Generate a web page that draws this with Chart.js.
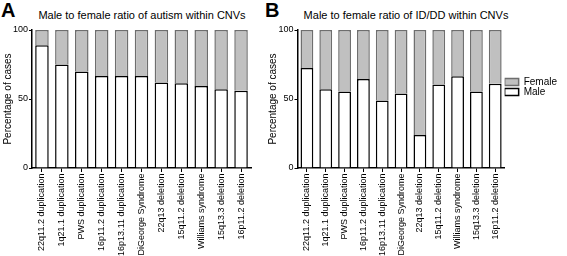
<!DOCTYPE html>
<html>
<head>
<meta charset="utf-8">
<script src="https://cdn.jsdelivr.net/npm/chart.js@4.4.1/dist/chart.umd.min.js"></script>
<style>
    body { margin: 0; background: #fff; }
    #wrap { position: relative; width: 567px; height: 256px; overflow: hidden; font-family: 'Liberation Sans', Arial, Helvetica, sans-serif; }
    .letter { position: absolute; top: -1px; font-size: 20px; font-weight: bold; color: #000; }
    .title { position: absolute; top: 9px; font-size: 11px; color: #000; white-space: nowrap; transform: translateX(-50%); }
    canvas { position: absolute; top: 0; }
</style>
</head>
<body>
<div id="wrap">
    <div class="letter" style="left:1px">A</div>
    <div class="letter" style="left:265px">B</div>
    <div class="title" style="left:142px">Male to female ratio of autism within CNVs</div>
    <div class="title" style="left:406px">Male to female ratio of ID/DD within CNVs</div>
    <canvas id="chartA" style="left:0px" width="262" height="256"></canvas>
    <canvas id="chartB" style="left:265px" width="302" height="256"></canvas>
</div>
<script>
var categories = ['22q11.2 duplication', '1q21.1 duplication', 'PWS duplication', '16p11.2 duplication',
    '16p13.11 duplication', 'DiGeorge Syndrome', '22q13 deletion', '15q11.2 deletion',
    'Williams syndrome', '15q13.3 deletion', '16p11.2 deletion'];

// percentage of cases, panel A (autism)
var autismMale = [89, 75, 70, 66.7, 66.7, 66.7, 62, 61.5, 59.5, 57, 56];
var autismFemale = [11, 25, 30, 33.3, 33.3, 33.3, 38, 38.5, 40.5, 43, 44];

// percentage of cases, panel B (ID/DD)
var iddMale = [72.5, 57, 55.5, 64.5, 49, 54, 24, 60.5, 66.5, 55.5, 61];
var iddFemale = [27.5, 43, 44.5, 35.5, 51, 46, 76, 39.5, 33.5, 44.5, 39];

var yTicks = [0, 50, 100];
var yAxisTitle = 'Percentage of cases';

Chart.defaults.font.family = "'Liberation Sans', Arial, Helvetica, sans-serif";
Chart.defaults.color = '#000';
Chart.defaults.animation = false;

function draw(chartId, male, female, yWidth, rightPad, showLegend) {
    var chartElement = document.getElementById(chartId);

    return new Chart(chartElement, {
        type: 'bar',
        data: {
            labels: categories,
            datasets: [
                {
                    label: 'Male',
                    data: male,
                    backgroundColor: '#ffffff',
                    borderColor: '#000000',
                    borderWidth: 1.5,
                    barPercentage: 0.68,
                    categoryPercentage: 1
                },
                {
                    label: 'Female',
                    data: female,
                    backgroundColor: '#c0c0c0',
                    borderColor: '#6e6e6e',
                    borderWidth: 1.5,
                    barPercentage: 0.68,
                    categoryPercentage: 1
                }
            ]
        },
        options: {
            responsive: false,
            layout: {
                padding: { top: 30, right: rightPad, left: 0, bottom: 0 }
            },
            plugins: {
                tooltip: { enabled: false },
                legend: {
                    display: showLegend,
                    position: 'right',
                    align: 'start',
                    reverse: true,
                    // empty title only used to push the legend down
                    title: {
                        display: true,
                        text: '',
                        font: { size: 10 },
                        padding: { top: 35, bottom: 0 }
                    },
                    labels: {
                        boxWidth: 14,
                        boxHeight: 7,
                        padding: 0,
                        font: { size: 10 },
                        color: '#000'
                    }
                }
            },
            scales: {
                x: {
                    stacked: true,
                    afterFit: function (scale) { scale.height = 88; },
                    grid: {
                        offset: false,
                        drawOnChartArea: false,
                        tickLength: 4,
                        tickWidth: 1,
                        tickColor: '#000'
                    },
                    border: { color: '#000', width: 1.5 },
                    ticks: {
                        autoSkip: false,
                        minRotation: 90,
                        maxRotation: 90,
                        padding: 1.5,
                        font: { size: 9 },
                        color: '#000'
                    }
                },
                y: {
                    stacked: true,
                    min: 0,
                    max: 100,
                    afterFit: function (scale) { scale.width = yWidth; },
                    afterBuildTicks: function (scale) {
                        scale.ticks = yTicks.map(function (v) { return { value: v }; });
                    },
                    grid: {
                        drawOnChartArea: false,
                        tickLength: 3,
                        tickWidth: 1,
                        tickColor: '#000'
                    },
                    border: { color: '#000', width: 1.5 },
                    ticks: {
                        padding: 1,
                        font: { size: 9 },
                        color: '#000'
                    },
                    title: {
                        display: true,
                        text: yAxisTitle,
                        font: { size: 10 },
                        color: '#000',
                        padding: { top: 2, bottom: 0 }
                    }
                }
            }
        }
    });
}

draw('chartA', autismMale, autismFemale, 32, 11, false);
draw('chartB', iddMale, iddFemale, 32.5, 0, true);
</script>
</body>
</html>
